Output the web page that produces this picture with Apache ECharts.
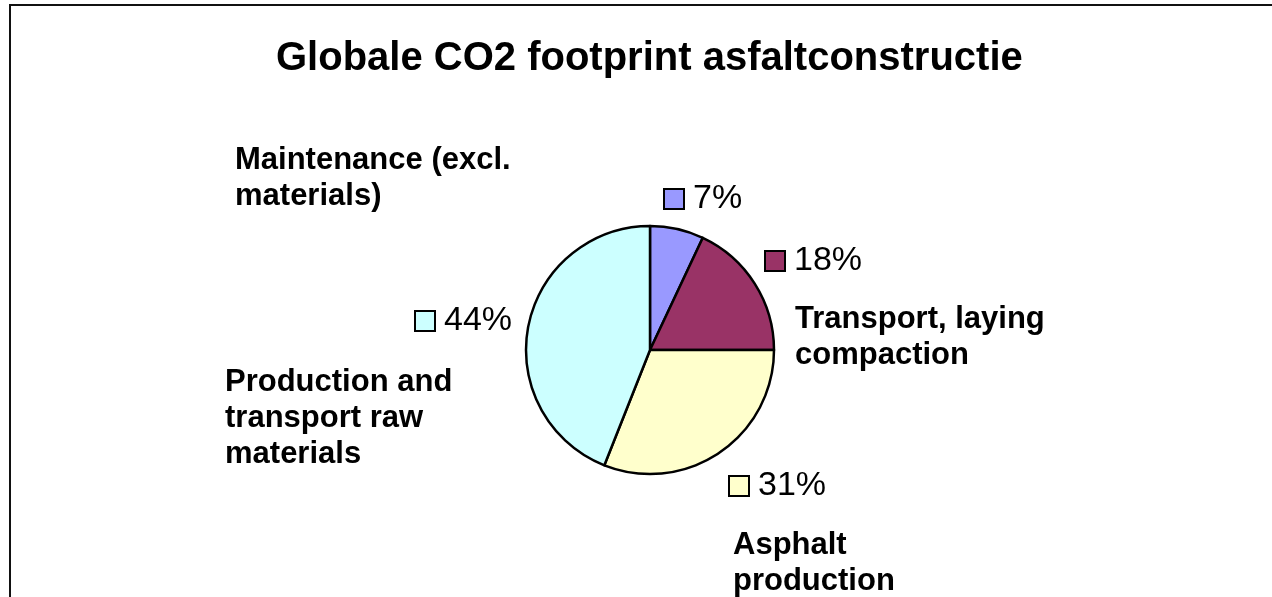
<!DOCTYPE html>
<html>
<head>
<meta charset="utf-8">
<script src="https://cdn.jsdelivr.net/npm/echarts@6/dist/echarts.min.js"></script>
<style>
  html, body { margin: 0; padding: 0; background: #fff; }
  #chart { width: 1272px; height: 597px; }
</style>
</head>
<body>
<div id="chart"></div>
<script>
// data
const categories = [
  "Maintenance (excl.\nmaterials)",
  "Transport, laying\ncompaction",
  "Asphalt\nproduction",
  "Production and\ntransport raw\nmaterials"
];
const shares = [7, 18, 31, 44];
const sliceColors = ["#9999FF", "#993366", "#FFFFCC", "#CCFFFF"];

// where the (dragged) labels sit, left edge / vertical middle
const pctLabelPos = [[665, 199], [766, 261], [730, 486], [416, 321]];
const nameLabelPos = [[235, 178], [795, 337], [733, 563], [225, 418]];

const chart = echarts.init(document.getElementById("chart"));

// one rich style per legend key colour
const keyStyles = {};
sliceColors.forEach((c, i) => {
  keyStyles["k" + i] = {
    width: 18,
    height: 18,
    backgroundColor: c,
    borderColor: "#000",
    borderWidth: 2
  };
});
keyStyles.pct = {
  fontFamily: "Liberation Sans, Arial, sans-serif",
  fontSize: 34,
  color: "#000",
  padding: [0, 0, 0, 10]
};

const seriesData = categories.map((name, i) => ({
  name: name,
  value: shares[i],
  itemStyle: { color: sliceColors[i] }
}));

const option = {
  animation: false,
  title: {
    text: "Globale CO2 footprint asfaltconstructie",
    left: 271,
    top: 34,
    textStyle: {
      fontFamily: "Liberation Sans, Arial, sans-serif",
      fontSize: 40,
      fontWeight: "bold",
      color: "#000"
    }
  },
  graphic: [
    {
      type: "rect",
      shape: { x: 10, y: 5, width: 1400, height: 800 },
      style: { fill: "none", stroke: "#111", lineWidth: 2 },
      silent: true,
      z: -10
    }
  ],
  series: [
    {
      type: "pie",
      center: [650, 350],
      radius: 124,
      startAngle: 90,
      clockwise: true,
      silent: true,
      data: seriesData,
      itemStyle: { borderColor: "#000", borderWidth: 2.5 },
      label: {
        show: true,
        position: "outside",
        formatter: (p) => "{k" + p.dataIndex + "|}{pct|" + p.value + "%}",
        rich: keyStyles
      },
      labelLine: { show: false },
      labelLayout: (p) => ({
        x: pctLabelPos[p.dataIndex][0],
        y: pctLabelPos[p.dataIndex][1],
        align: "left",
        verticalAlign: "middle"
      })
    },
    {
      // invisible copy, only carries the category names
      type: "pie",
      center: [650, 350],
      radius: 124,
      startAngle: 90,
      clockwise: true,
      silent: true,
      z: 1,
      data: categories.map((name, i) => ({ name: name, value: shares[i] })),
      itemStyle: { color: "rgba(0,0,0,0)", borderWidth: 0 },
      label: {
        show: true,
        position: "outside",
        formatter: "{b}",
        fontFamily: "Liberation Sans, Arial, sans-serif",
        fontSize: 31,
        fontWeight: "bold",
        lineHeight: 36,
        color: "#000",
        align: "left"
      },
      labelLine: { show: false },
      labelLayout: (p) => ({
        x: nameLabelPos[p.dataIndex][0],
        y: nameLabelPos[p.dataIndex][1],
        align: "left",
        verticalAlign: "middle"
      })
    }
  ]
};

chart.setOption(option);
</script>
</body>
</html>
